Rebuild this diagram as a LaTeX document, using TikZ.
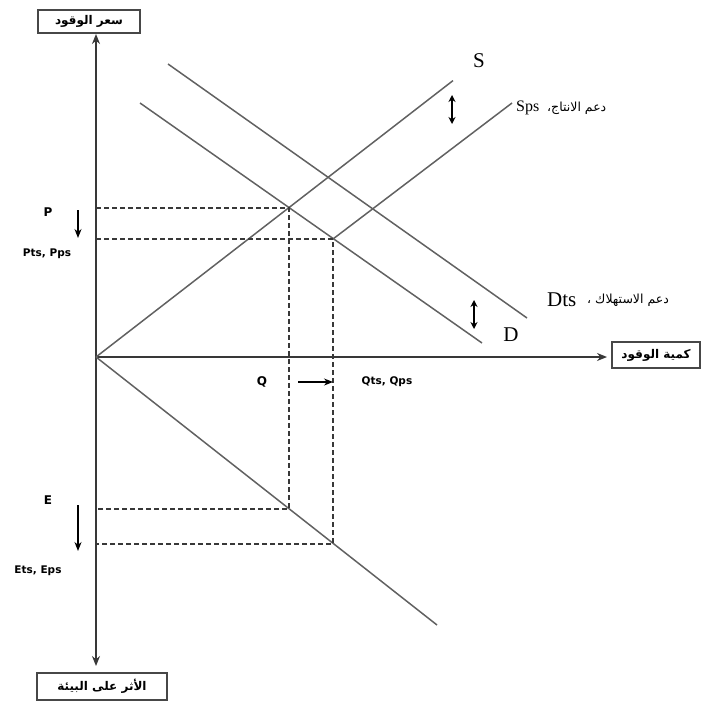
\documentclass[tikz,border=0pt]{standalone}
\usepackage{fontspec}
\setmainfont{Liberation Serif}
\newfontfamily\arabicfont[Script=Arabic]{DejaVu Sans}
\newfontfamily\lblfont{DejaVu Sans}
\TeXXeTstate=1
\usetikzlibrary{arrows.meta}
\begin{document}
\begin{tikzpicture}[x=1pt,y=-1pt,
  axis/.style={line width=1.8pt, draw=black!78},
  curve/.style={line width=1.5pt, draw=black!62},
  guide/.style={line width=1.7pt, draw=black!78, dash pattern=on 5pt off 3pt},
  box/.style={draw=black!72, line width=1.8pt, fill=white, inner sep=0pt},
  arbox/.style={font=\arabicfont\bfseries\fontsize{12}{14}\selectfont},
  artext/.style={font=\arabicfont\fontsize{12.5}{14}\selectfont, inner sep=0pt},
  tipd/.style={-{Stealth[length=9pt,width=7pt]}},
  tipdd/.style={{Stealth[length=7pt,width=7pt]}-{Stealth[length=7pt,width=7pt]}},
  smalllbl/.style={font=\lblfont\bfseries\fontsize{10.5}{12}\selectfont, inner sep=0pt},
  letterlbl/.style={font=\lblfont\bfseries\fontsize{12}{14}\selectfont, inner sep=0pt},
  curvelbl/.style={font=\fontsize{21}{23}\selectfont, inner sep=0pt}]

\useasboundingbox (0,0) rectangle (707,704);

% key points
\coordinate (O) at (96,357);
\coordinate (Stop) at (453,80.6);
\coordinate (E1) at (289,208);
\coordinate (E2) at (333,239);
\coordinate (Spstop) at (512,103);
\coordinate (D1s) at (168,64);
\coordinate (D1e) at (527,318);
\coordinate (D0s) at (140,103);
\coordinate (D0e) at (482,343);
\coordinate (Lend) at (437,625);
\coordinate (L1) at (289,509);
\coordinate (L2) at (333,544);
\coordinate (YP1) at (96,208);
\coordinate (YP2) at (96,239);
\coordinate (YE1) at (96,509);
\coordinate (YE2) at (96,544);
\coordinate (Ytop) at (96,34);
\coordinate (Ybot) at (96,666);
\coordinate (Xend) at (607,357);

% boxes
\node[box, arbox, minimum width=102pt, minimum height=23pt] (ybox) at (89,21.5) {\beginR سعر الوقود\endR};
\node[box, arbox, minimum width=88pt, minimum height=26pt] (xbox) at (656,355) {\beginR كمية الوقود\endR};
\node[box, arbox, minimum width=130pt, minimum height=27pt] (ebox) at (102,686.5) {\beginR الأثر على البيئة\endR};

% axes
\draw[axis, {Stealth[length=10pt,width=8pt]}-{Stealth[length=10pt,width=8pt]}] (Ybot) -- (Ytop);
\draw[axis, -{Stealth[length=10pt,width=8pt]}] (O) -- (Xend);

% curves
\draw[curve] (O) -- (Stop);
\draw[curve] (E2) -- (Spstop);
\draw[curve] (D1s) -- (D1e);
\draw[curve] (D0s) -- (D0e);
\draw[curve] (O) -- (Lend);

% guides
\draw[guide] (YP1) -- (E1) -- (L1) -- (YE1);
\draw[guide] (YP2) -- (E2) -- (L2) -- (YE2);

% shift arrows
\coordinate (pa1) at (78,210); \coordinate (pa2) at (78,238);
\coordinate (qa1) at (298,382); \coordinate (qa2) at (333,382);
\coordinate (ea1) at (78,505); \coordinate (ea2) at (78,551);
\coordinate (da1) at (452,95); \coordinate (da2) at (452,124);
\coordinate (db1) at (474,300); \coordinate (db2) at (474,329);
\draw[line width=1.4pt, tipd] (pa1) -- (pa2);
\draw[line width=1.4pt, tipd] (qa1) -- (qa2);
\draw[line width=1.4pt, tipd] (ea1) -- (ea2);
\draw[line width=1.4pt, tipdd] (da1) -- (da2);
\draw[line width=1.4pt, tipdd] (db1) -- (db2);

% labels
\node[curvelbl] (lS) at (479,61) {S};
\node[curvelbl] (lD) at (511,335) {D};
\node[font=\fontsize{16}{18}\selectfont, inner sep=0pt, anchor=west] (lSps) at (516,108) {Sps};
\node[artext, anchor=west] (aSps) at (547,108) {\beginR دعم الانتاج،\endR};
\node[curvelbl, anchor=west] (lDts) at (547,300) {Dts};
\node[artext, anchor=west] (aDts) at (587,300) {\beginR دعم الاستهلاك ،\endR};

\node[letterlbl] (lP) at (48,212) {P};
\node[smalllbl] (lP2) at (47,254) {Pts, Pps};
\node[letterlbl] (lQ) at (262,382) {Q};
\node[smalllbl] (lQ2) at (387,382) {Qts, Qps};
\node[letterlbl] (lE) at (48,500) {E};
\node[smalllbl] (lE2) at (38,571) {Ets, Eps};
\end{tikzpicture}
\end{document}
